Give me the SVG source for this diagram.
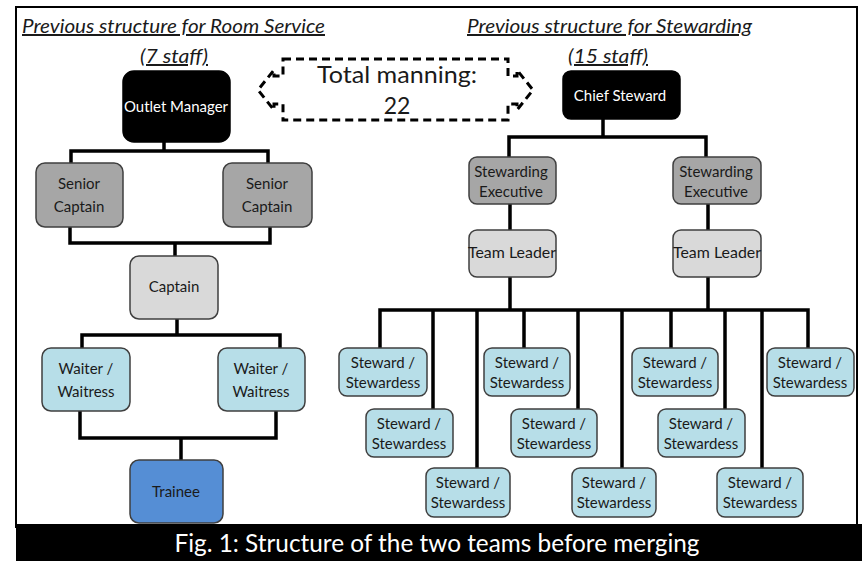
<svg xmlns="http://www.w3.org/2000/svg" width="865" height="561" viewBox="0 0 865 561">
<style>
.box{stroke:#3f3f3f;stroke-width:1.5}
.blk{fill:#000;stroke:#000}
.dk{fill:#a6a6a6}
.lt{fill:#d9d9d9}
.bl{fill:#b7dee8}
.tr{fill:#558ed5}
text{font-family:Lato,"Noto Sans",sans-serif}
.t{font-size:15px;fill:#1a1a1a;text-anchor:middle}
.w{fill:#fff}
.ttl{font-size:20px;font-style:italic;fill:#1a1a1a;text-decoration:underline}
#connectors path{fill:none;stroke:#000;stroke-width:3.5;stroke-linejoin:miter}
</style>
<rect x="0" y="0" width="865" height="561" fill="#fff"/>
<rect x="16" y="7" width="841" height="520" fill="none" stroke="#000" stroke-width="2"/>
<rect x="16" y="524" width="846" height="37" fill="#000"/>
<text x="437" y="552" font-size="25" fill="#fff" text-anchor="middle" textLength="525" lengthAdjust="spacingAndGlyphs">Fig. 1: Structure of the two teams before merging</text>

<g id="titles">
<text class="ttl" x="22" y="33" textLength="303" lengthAdjust="spacingAndGlyphs">Previous structure  for Room Service</text>
<text class="ttl" x="140" y="63" textLength="68" lengthAdjust="spacingAndGlyphs">(7 staff)</text>
<text class="ttl" x="467" y="33" textLength="285" lengthAdjust="spacingAndGlyphs">Previous structure  for Stewarding</text>
<text class="ttl" x="568" y="63" textLength="80" lengthAdjust="spacingAndGlyphs">(15 staff)</text>
</g>

<g id="total-manning">
<path d="M283,59 H508 V76 H517 V70 L533,90 L517,110 V104 H508 V120 H283 V104 H274 V110 L258,90 L274,70 V76 H283 Z" fill="none" stroke="#000" stroke-width="3" stroke-dasharray="8 5"/>
<text x="397" y="83" font-size="23" fill="#1a1a1a" text-anchor="middle" textLength="160" lengthAdjust="spacingAndGlyphs">Total manning:</text>
<text x="397" y="114" font-size="23" fill="#1a1a1a" text-anchor="middle">22</text>
</g>

<g id="connectors">
<path d="M164,142 V151 M71,163 V151 H268 V163"/>
<path d="M70,227 V243 H270 V227 M175,243 V256"/>
<path d="M177,319 V335 M82,348 V335 H280 V348"/>
<path d="M80,411 V438 H276 V411 M181,438 V460"/>
<path d="M603,119 V137 M509,157 V137 H706 V157"/>
<path d="M510,204 V230 M708,204 V230"/>
<path d="M510,277 V310 M708,277 V310"/>
<path d="M380,348 V310 H808 V348"/>
<path d="M433,310 V409 M477,310 V468 M524,310 V348 M578,310 V409 M622,310 V468 M671,310 V348 M725,310 V409 M762,310 V468"/>
</g>

<g id="outlet-manager">
<rect class="box blk" x="123" y="71" width="107" height="71" rx="11"/>
<text class="t w" x="176" y="112" textLength="104" lengthAdjust="spacingAndGlyphs">Outlet Manager</text>
</g>
<g id="senior-captain-1">
<rect class="box dk" x="36" y="163" width="87" height="64" rx="9"/>
<text class="t" x="79" y="189">Senior</text><text class="t" x="79" y="212">Captain</text>
</g>
<g id="senior-captain-2">
<rect class="box dk" x="223" y="163" width="89" height="64" rx="9"/>
<text class="t" x="267" y="189">Senior</text><text class="t" x="267" y="212">Captain</text>
</g>
<g id="captain">
<rect class="box lt" x="130" y="256" width="88" height="63" rx="9"/>
<text class="t" x="174" y="292">Captain</text>
</g>
<g id="waiter-1">
<rect class="box bl" x="42" y="348" width="88" height="63" rx="9"/>
<text class="t" x="86" y="374">Waiter /</text><text class="t" x="86" y="397">Waitress</text>
</g>
<g id="waiter-2">
<rect class="box bl" x="218" y="348" width="87" height="63" rx="9"/>
<text class="t" x="261" y="374">Waiter /</text><text class="t" x="261" y="397">Waitress</text>
</g>
<g id="trainee">
<rect class="box tr" x="130" y="460" width="93" height="63" rx="9"/>
<text class="t" x="176" y="497">Trainee</text>
</g>

<g id="chief-steward">
<rect class="box blk" x="563" y="71" width="117" height="48" rx="8"/>
<text class="t w" x="620" y="101">Chief Steward</text>
</g>
<g id="stewarding-executive-1">
<rect class="box dk" x="469" y="157" width="87" height="47" rx="8"/>
<text class="t" x="511" y="177">Stewarding</text><text class="t" x="511" y="197">Executive</text>
</g>
<g id="stewarding-executive-2">
<rect class="box dk" x="673" y="157" width="88" height="47" rx="8"/>
<text class="t" x="716" y="177">Stewarding</text><text class="t" x="716" y="197">Executive</text>
</g>
<g id="team-leader-1">
<rect class="box lt" x="469" y="230" width="87" height="47" rx="8"/>
<text class="t" x="512" y="258" textLength="88" lengthAdjust="spacingAndGlyphs">Team Leader</text>
</g>
<g id="team-leader-2">
<rect class="box lt" x="673" y="230" width="88" height="47" rx="8"/>
<text class="t" x="717" y="258" textLength="88" lengthAdjust="spacingAndGlyphs">Team Leader</text>
</g>

<g id="steward-1"><rect class="box bl" x="339" y="348" width="88" height="48" rx="8"/><text class="t" x="383" y="368">Steward /</text><text class="t" x="383" y="388">Stewardess</text></g>
<g id="steward-2"><rect class="box bl" x="366" y="409" width="87" height="48" rx="8"/><text class="t" x="409" y="429">Steward /</text><text class="t" x="409" y="449">Stewardess</text></g>
<g id="steward-3"><rect class="box bl" x="426" y="468" width="84" height="49" rx="8"/><text class="t" x="468" y="488">Steward /</text><text class="t" x="468" y="508">Stewardess</text></g>
<g id="steward-4"><rect class="box bl" x="484" y="348" width="86" height="48" rx="8"/><text class="t" x="527" y="368">Steward /</text><text class="t" x="527" y="388">Stewardess</text></g>
<g id="steward-5"><rect class="box bl" x="511" y="409" width="86" height="48" rx="8"/><text class="t" x="554" y="429">Steward /</text><text class="t" x="554" y="449">Stewardess</text></g>
<g id="steward-6"><rect class="box bl" x="572" y="468" width="84" height="49" rx="8"/><text class="t" x="614" y="488">Steward /</text><text class="t" x="614" y="508">Stewardess</text></g>
<g id="steward-7"><rect class="box bl" x="632" y="348" width="86" height="48" rx="8"/><text class="t" x="675" y="368">Steward /</text><text class="t" x="675" y="388">Stewardess</text></g>
<g id="steward-8"><rect class="box bl" x="658" y="409" width="87" height="48" rx="8"/><text class="t" x="701" y="429">Steward /</text><text class="t" x="701" y="449">Stewardess</text></g>
<g id="steward-9"><rect class="box bl" x="717" y="468" width="86" height="49" rx="8"/><text class="t" x="760" y="488">Steward /</text><text class="t" x="760" y="508">Stewardess</text></g>
<g id="steward-10"><rect class="box bl" x="767" y="348" width="87" height="48" rx="8"/><text class="t" x="810" y="368">Steward /</text><text class="t" x="810" y="388">Stewardess</text></g>
</svg>
